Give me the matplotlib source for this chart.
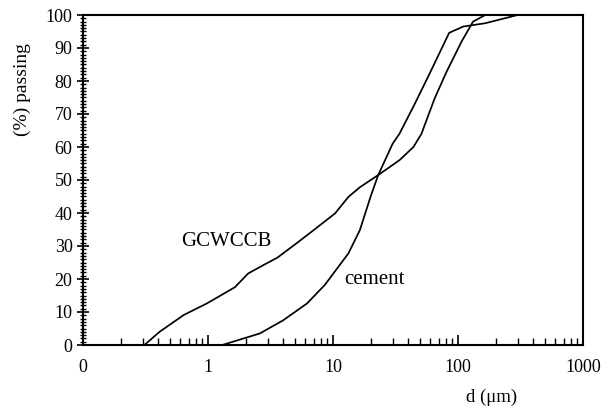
import matplotlib
matplotlib.use("Agg")
import matplotlib.pyplot as plt
from matplotlib.ticker import FixedLocator, LogLocator, MultipleLocator, NullFormatter

plt.rcParams['font.family'] = ['Liberation Serif', 'DejaVu Serif']

# Particle size distribution data (d in micrometres, cumulative % passing)
gcwccb_d = [0.31, 0.41, 0.64, 0.98, 1.64, 2.1, 2.77, 3.6, 5.1, 7.0, 10.4, 13.3,
            16.4, 23, 34, 44, 51, 65, 81, 107, 132, 165]
gcwccb_p = [0, 4, 9.1, 12.6, 17.5, 21.7, 24.2, 26.5, 30.8, 34.8, 39.9, 44.9,
            47.8, 51.5, 56, 60, 64, 74.7, 82.8, 92, 98, 100]

cement_d = [1.3, 2.6, 4.0, 6.2, 8.6, 13.3, 16.4, 20, 23, 30, 34, 45, 58, 85, 110, 165, 300]
cement_p = [0, 3.5, 7.5, 12.6, 18.2, 27.8, 34.8, 45, 51.5, 61, 64, 73, 81.5, 94.6, 96.5, 97.5, 100]

x_ticks = [0.1, 1, 10, 100, 1000]
x_tick_labels = ["0", "1", "10", "100", "1000"]
y_ticks = list(range(0, 101, 10))

fig = plt.figure(figsize=(6.12, 4.11), dpi=100)
ax = fig.add_axes([83 / 612, 66 / 411, 500 / 612, 330 / 411])

ax.plot(gcwccb_d, gcwccb_p, color='black', lw=1.25)
ax.plot(cement_d, cement_p, color='black', lw=1.25)

ax.set_xscale('log')
ax.set_xlim(0.1, 1000)
ax.set_ylim(0, 100)

ax.xaxis.set_major_locator(FixedLocator(x_ticks))
ax.set_xticklabels(x_tick_labels)
ax.xaxis.set_minor_locator(LogLocator(base=10, subs=range(2, 10)))
ax.xaxis.set_minor_formatter(NullFormatter())
ax.set_yticks(y_ticks)
ax.yaxis.set_minor_locator(MultipleLocator(1))

ax.tick_params(axis='x', which='major', direction='in', length=7, width=1.2,
               labelsize=13, pad=10)
ax.tick_params(axis='x', which='minor', direction='in', length=5, width=1.0)
ax.tick_params(axis='y', which='major', direction='inout', length=9, width=1.2,
               labelsize=13, pad=3)
ax.tick_params(axis='y', which='minor', direction='inout', length=5, width=1.0)

for s in ax.spines.values():
    s.set_linewidth(1.5)

fig.text(226 / 612, 1 - 242 / 411, "GCWCCB", ha='center', va='center', fontsize=15)
fig.text(374 / 612, 1 - 280 / 411, "cement", ha='center', va='center', fontsize=15)

fig.text(22 / 612, 1 - 90 / 411, "(%) passing", rotation=90, ha='center',
         va='center', fontsize=14)
fig.text(492 / 612, 1 - 397 / 411, "d (\u03bcm)", ha='center', va='center', fontsize=13.5)

fig.savefig("out.png", dpi=100)
